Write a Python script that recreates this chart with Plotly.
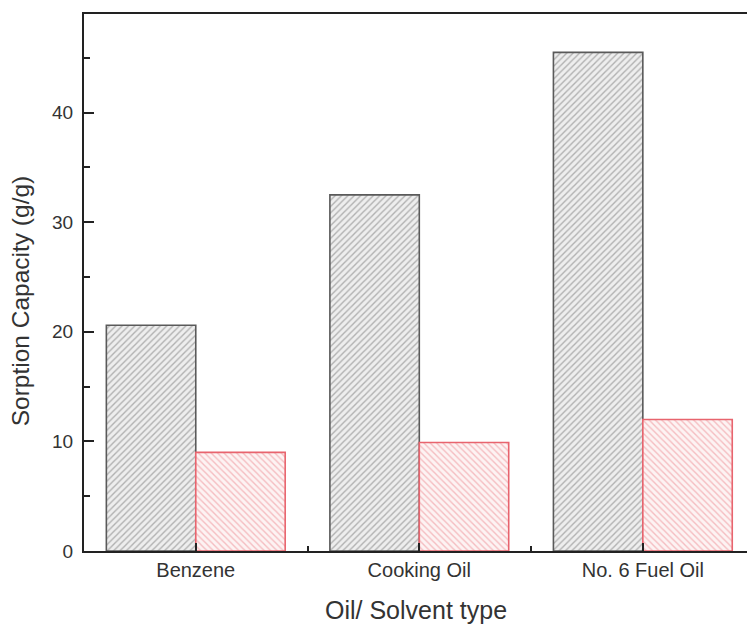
import plotly.graph_objects as go

# Sorption capacity per oil / solvent type
categories = ["Benzene", "Cooking Oil", "No. 6 Fuel Oil"]
series_a = [20.6, 32.5, 45.5]   # grey hatched bars
series_b = [9.0, 9.9, 12.0]     # red hatched bars

x_pos = list(range(len(categories)))
FONT = "Liberation Sans, Arial, sans-serif"
TXT = "#333333"

fig = go.Figure()
fig.add_trace(go.Bar(
    x=x_pos, y=series_a, name="A",
    marker=dict(
        color="#eeeeee",
        line=dict(color="#5a5a5a", width=1.6),
        pattern=dict(shape="/", size=4.5, solidity=0.3,
                     fgcolor="#b0b0b0", bgcolor="#eeeeee", fillmode="replace"),
    ),
))
fig.add_trace(go.Bar(
    x=x_pos, y=series_b, name="B",
    marker=dict(
        color="#fdf1f1",
        line=dict(color="#e8646e", width=1.6),
        pattern=dict(shape="\\", size=4.5, solidity=0.3,
                     fgcolor="#f5bcc0", bgcolor="#fdf3f3", fillmode="replace"),
    ),
))

fig.update_layout(
    width=747, height=626,
    margin=dict(l=84, r=0, t=14, b=75),
    paper_bgcolor="white", plot_bgcolor="white",
    barmode="group", bargap=0.2, bargroupgap=0,
    showlegend=False,
    font=dict(family=FONT, color=TXT),
)

fig.update_xaxes(
    range=[-0.5, 2.466],
    tickvals=x_pos, ticktext=categories,
    tickfont=dict(size=20, family=FONT, color=TXT),
    showline=True, linecolor="#222222", linewidth=2, mirror=True,
    ticks="inside", ticklen=8, tickwidth=2, tickcolor="#222222",
    minor=dict(tick0=0.5, dtick=1, ticks="inside", ticklen=5,
               tickwidth=2, tickcolor="#222222"),
    showgrid=False, zeroline=False,
)
fig.update_yaxes(
    range=[0, 49],
    tick0=0, dtick=10,
    tickfont=dict(size=19, family=FONT, color=TXT),
    showline=True, linecolor="#222222", linewidth=2,
    ticks="inside", ticklen=10, tickwidth=2, tickcolor="#222222",
    minor=dict(dtick=5, ticks="inside", ticklen=6,
               tickwidth=2, tickcolor="#222222"),
    ticklabelstandoff=5,
    showgrid=False, zeroline=False,
)

fig.add_annotation(
    text="Oil/ Solvent type", xref="paper", yref="paper",
    x=0.5, y=-0.11, xanchor="center", yanchor="middle",
    showarrow=False, font=dict(size=25, family=FONT, color=TXT),
)
fig.add_annotation(
    text="Sorption Capacity (g/g)", xref="paper", yref="paper",
    x=-0.0965, y=0.465, xanchor="center", yanchor="middle", textangle=-90,
    showarrow=False, font=dict(size=24.5, family=FONT, color=TXT),
)

fig.write_html("out.html")
